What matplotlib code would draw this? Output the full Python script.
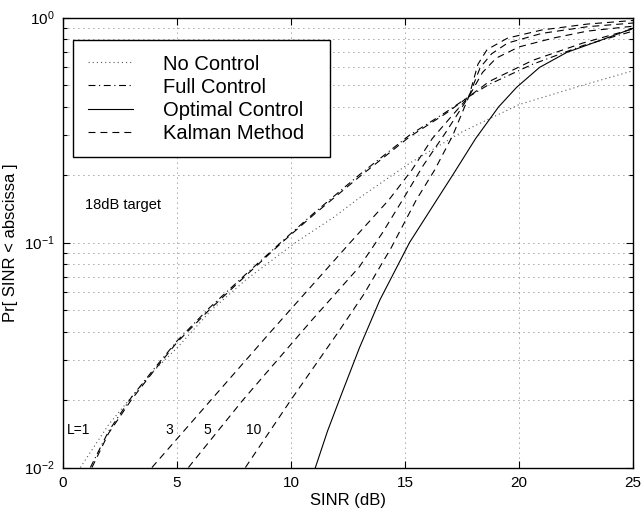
import matplotlib
matplotlib.use("Agg")
import matplotlib.pyplot as plt
from matplotlib.ticker import LogLocator, NullFormatter, FixedLocator

plt.rcParams['font.family'] = ['Liberation Sans', 'DejaVu Sans']
plt.rcParams['mathtext.fontset'] = 'custom'
plt.rcParams['mathtext.rm'] = 'Liberation Sans'
plt.rcParams['mathtext.it'] = 'Liberation Sans:italic'
plt.rcParams['mathtext.bf'] = 'Liberation Sans:bold'
plt.rcParams['lines.scale_dashes'] = False

# ---------------- data ----------------
nocontrol_x = [0.76, 2.0, 2.9, 4.0, 5.0, 6.5, 8.0, 10.2, 11.9, 13.0, 15.2, 17.5, 20.0, 22.5, 25.0]
nocontrol_y = [0.01, 0.0155, 0.02, 0.027, 0.034, 0.05, 0.068, 0.1, 0.13, 0.158, 0.225, 0.31, 0.41, 0.49, 0.58]

full_x = [1.2, 2.0, 3.0, 4.0, 5.0, 6.4, 8.0, 9.6, 11.0, 13.0, 15.2, 16.8, 17.8, 18.7, 20.6, 22.8, 25.0]
full_y = [0.01, 0.0145, 0.0205, 0.0275, 0.0365, 0.051, 0.072, 0.101, 0.135, 0.2, 0.3, 0.38, 0.445, 0.505, 0.62, 0.75, 0.87]

optimal_x = [11.07, 11.6, 12.24, 13.0, 13.9, 15.2, 16.4, 17.1, 18.1, 19.1, 19.9, 20.9, 22.1, 23.7, 25.0]
optimal_y = [0.01, 0.0145, 0.0215, 0.034, 0.0556, 0.1, 0.155, 0.2, 0.29, 0.4, 0.49, 0.6, 0.7, 0.8, 0.895]

kal1_x = [1.27, 2.0, 3.0, 4.0, 5.0, 6.4, 8.0, 9.6, 11.0, 13.0, 15.2, 16.8, 17.8, 18.7, 20.6, 22.8, 25.0]
kal1_y = [0.01, 0.0142, 0.02, 0.027, 0.036, 0.05, 0.071, 0.1, 0.133, 0.196, 0.295, 0.375, 0.445, 0.52, 0.645, 0.77, 0.89]

kal3_x = [3.9, 6.5, 9.1, 12.6, 14.3, 15.3, 16.2, 17.0, 17.8, 18.4, 19.0, 20.0, 21.5, 23.0, 25.0]
kal3_y = [0.01, 0.02, 0.04, 0.1, 0.155, 0.21, 0.29, 0.36, 0.445, 0.57, 0.66, 0.74, 0.81, 0.87, 0.915]

kal5_x = [5.5, 7.9, 10.9, 13.0, 14.0, 14.9, 15.8, 16.8, 17.8, 18.3, 18.8, 19.5, 21.0, 23.0, 25.0]
kal5_y = [0.01, 0.02, 0.045, 0.078, 0.11, 0.155, 0.22, 0.31, 0.445, 0.6, 0.69, 0.77, 0.85, 0.91, 0.945]

kal10_x = [8.0, 10.0, 12.0, 13.2, 14.4, 15.5, 16.3, 17.1, 17.8, 18.2, 18.6, 19.5, 21.0, 23.0, 25.0]
kal10_y = [0.01, 0.02, 0.039, 0.059, 0.095, 0.155, 0.21, 0.3, 0.445, 0.62, 0.72, 0.81, 0.88, 0.935, 0.97]

legend_labels = ['No Control', 'Full Control', 'Optimal Control', 'Kalman Method']
L_labels = ['L=1', '3', '5', '10']
L_label_x = [0.18, 4.64, 6.35, 8.36]
L_label_y = 0.0147
target_text = '18dB target'
xticks = [0, 5, 10, 15, 20, 25]

# ---------------- figure ----------------
W, H = 644, 514
fig = plt.figure(figsize=(W / 100, H / 100), dpi=100)
ax = fig.add_axes([63 / W, 1 - 467.5 / H, 570 / W, 450 / H])

lw = 0.8
dotted = (0, (0.8, 2.2))
dashed = (0, (5.0, 3.6))
dashdot = (0, (5.0, 2.6, 0.8, 2.6))

h_no, = ax.plot(nocontrol_x, nocontrol_y, color='0.35', lw=lw, linestyle=dotted)
h_full, = ax.plot(full_x, full_y, color='black', lw=lw, linestyle=dashdot)
h_opt, = ax.plot(optimal_x, optimal_y, color='black', lw=lw, linestyle='-')
h_k1, = ax.plot(kal1_x, kal1_y, color='black', lw=lw, linestyle=dashed)
ax.plot(kal3_x, kal3_y, color='black', lw=lw, linestyle=dashed)
ax.plot(kal5_x, kal5_y, color='black', lw=lw, linestyle=dashed)
ax.plot(kal10_x, kal10_y, color='black', lw=lw, linestyle=dashed)

ax.set_yscale('log')
ax.set_xlim(0, 25)
ax.set_ylim(0.01, 1.0)
ax.xaxis.set_major_locator(FixedLocator(xticks))
ax.yaxis.set_major_locator(LogLocator(base=10, numticks=10))
ax.yaxis.set_minor_locator(LogLocator(base=10, subs=range(2, 10), numticks=20))
ax.yaxis.set_minor_formatter(NullFormatter())

ax.grid(True, which='major', axis='both', color='0.3', lw=0.6, linestyle=(0, (0.6, 3.0)))
ax.grid(True, which='minor', axis='y', color='0.3', lw=0.6, linestyle=(0, (0.6, 3.0)))

ax.tick_params(which='both', direction='in', top=True, right=True, labelsize=11, width=0.8)
ax.tick_params(which='major', length=5, pad=6)
ax.tick_params(which='minor', length=3)
for s in ax.spines.values():
    s.set_linewidth(1.0)

ax.set_xlabel('SINR (dB)', fontsize=12, labelpad=2)
ax.set_ylabel('Pr[ SINR < abscissa ]', fontsize=12, labelpad=4)

for lab, lx in zip(L_labels, L_label_x):
    ax.text(lx, L_label_y, lab, fontsize=10,
            ha='left' if lab.startswith('L') else 'center', va='center')
ax.text(0.96, 0.147, target_text, fontsize=10.5, ha='left', va='center')

x0 = (73 - 63) / 570
x1 = (330 - 63) / 570
ytop = (467.5 - 40) / 450
leg = ax.legend([h_no, h_full, h_opt, h_k1], legend_labels,
                loc='upper left', bbox_to_anchor=(x0, ytop - 0.3, x1 - x0, 0.3),
                mode='expand', borderaxespad=0,
                fontsize=14.5, frameon=True, fancybox=False, edgecolor='black',
                framealpha=1, handlelength=2.25, handletextpad=1.5,
                labelspacing=0.2, borderpad=0.72)
leg.get_frame().set_linewidth(1.0)

fig.savefig('out.png', dpi=100)
